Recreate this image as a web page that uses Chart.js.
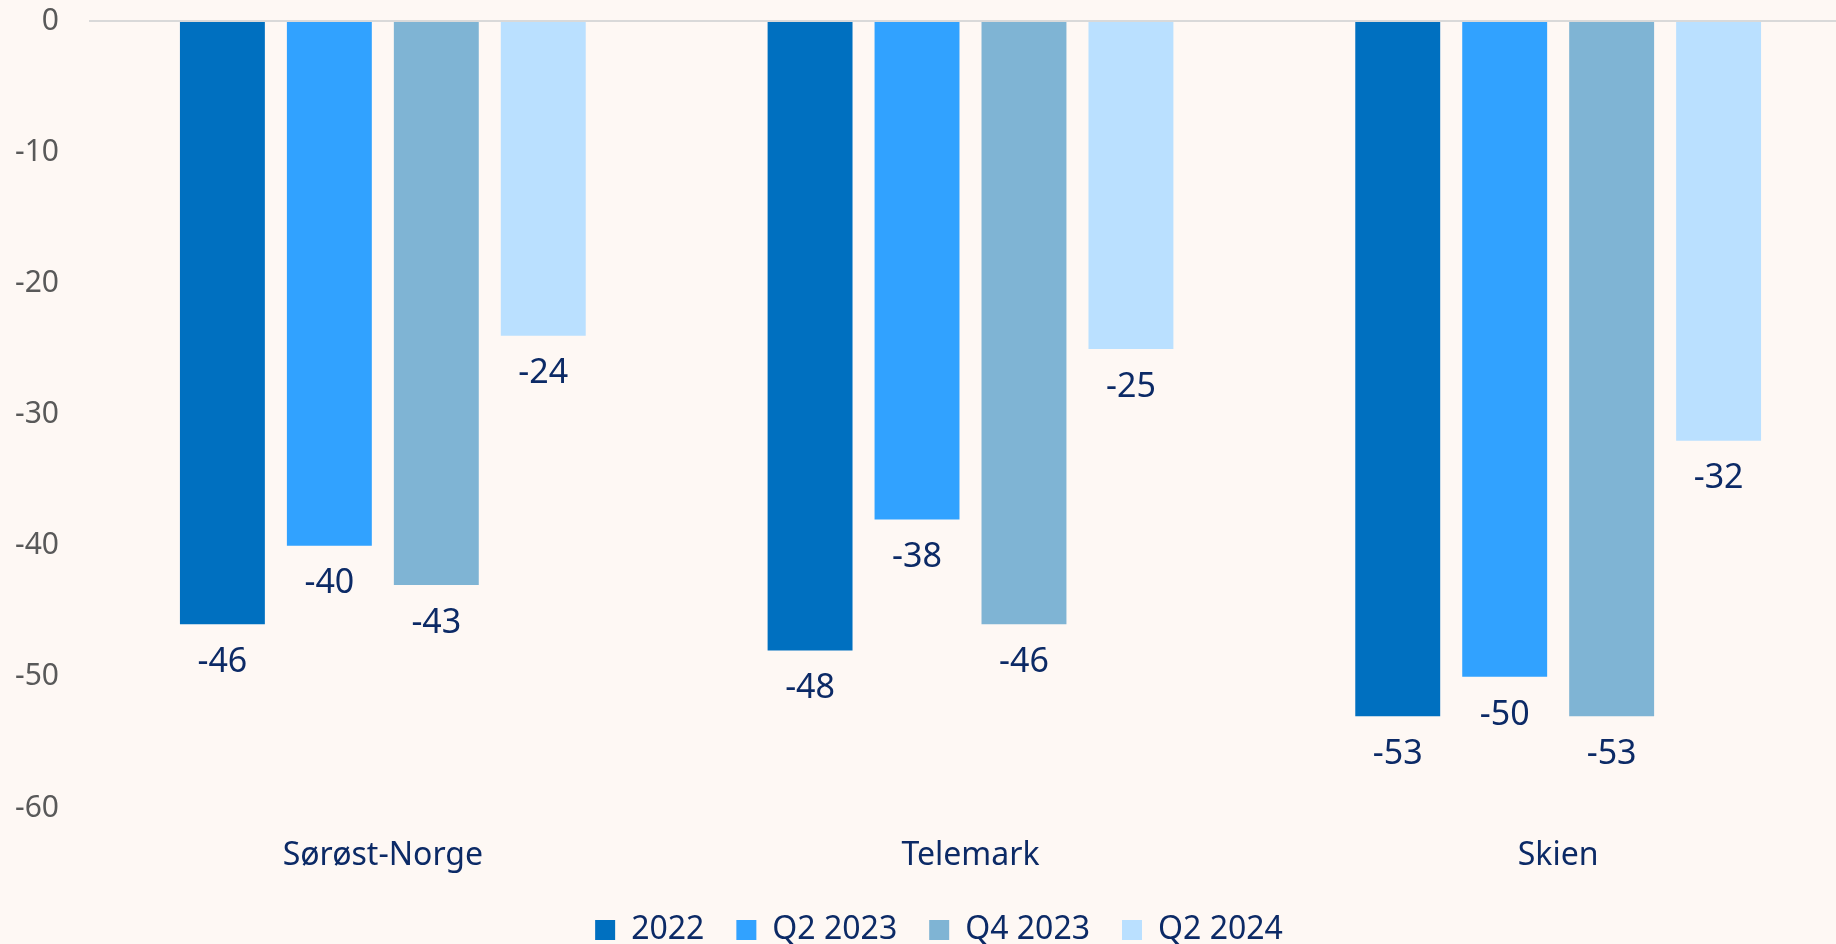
<!DOCTYPE html>
<html>
<head>
<meta charset="utf-8">
<script src="https://cdn.jsdelivr.net/npm/chart.js@4.4.1/dist/chart.umd.min.js"></script>
<style>
  html, body { margin: 0; padding: 0; background: #FEF8F4; overflow: hidden; }
  /* plottet gaar litt forbi hoyre kant i originalen */
  #wrap { width: 1852px; height: 944px; }
</style>
</head>
<body>
<div id="wrap"><canvas id="miGrafico"></canvas></div>
<script>
const labelsKat = ['Sørøst-Norge', 'Telemark', 'Skien'];
const serieNavn = ['2022', 'Q2 2023', 'Q4 2023', 'Q2 2024'];
const data2022 = [-46, -48, -53];
const dataQ22023 = [-40, -38, -50];
const dataQ42023 = [-43, -46, -53];
const dataQ22024 = [-24, -25, -32];
const farger = ['#0070C0', '#31A2FF', '#7FB4D4', '#BAE0FF'];
const yTicks = [0, -10, -20, -30, -40, -50, -60];

const fontNavn = '"Noto Sans", "Open Sans", sans-serif';
const marine = '#0C2A66';

// bakgrunn
const bgPlugin = {
    id: 'bg',
    beforeDraw(chart) {
        const c = chart.ctx;
        c.save();
        c.fillStyle = '#FEF8F4';
        c.fillRect(0, 0, chart.width, chart.height);
        c.restore();
    }
};

// liten justering av legenden
const legendFlytt = {
    id: 'legendFlytt',
    afterLayout(chart) {
        if (chart.legend) {
            chart.legend.left += 5;
            chart.legend.right += 5;
        }
    }
};

// verdier under stolpene
const verdiPlugin = {
    id: 'verdier',
    afterDatasetsDraw(chart) {
        const c = chart.ctx;
        c.save();
        c.font = '34px ' + fontNavn;
        c.fillStyle = marine;
        c.textAlign = 'center';
        c.textBaseline = 'middle';
        chart.data.datasets.forEach((ds, i) => {
            const meta = chart.getDatasetMeta(i);
            meta.data.forEach((el, j) => {
                c.fillText(String(ds.data[j]), el.x, el.y + 38);
            });
        });
        c.restore();
    }
};

const serier = [data2022, dataQ22023, dataQ42023, dataQ22024];
const datasets = serier.map((d, i) => ({
    label: serieNavn[i],
    data: d,
    backgroundColor: farger[i],
    borderWidth: 0,
    barPercentage: 0.794,
    categoryPercentage: 0.728
}));

const grafico = new Chart(document.getElementById('miGrafico'), {
    type: 'bar',
    data: { labels: labelsKat, datasets: datasets },
    options: {
        responsive: true,
        maintainAspectRatio: false,
        animation: false,
        layout: { padding: { left: 16, right: 0, top: 21, bottom: -12 } },
        plugins: {
            legend: {
                position: 'bottom',
                labels: {
                    font: { family: fontNavn, size: 32 },
                    color: marine,
                    boxWidth: 20,
                    boxHeight: 20,
                    padding: 32
                }
            },
            tooltip: { enabled: false }
        },
        scales: {
            x: {
                grid: { display: false },
                border: { display: false },
                ticks: {
                    font: { family: fontNavn, size: 32 },
                    color: marine,
                    padding: 21
                },
                afterFit(axis) {
                    axis.height = 74;
                    axis.paddingLeft = 0;
                    axis.paddingRight = 0;
                }
            },
            y: {
                min: -60,
                max: 0,
                afterBuildTicks(axis) {
                    axis.ticks = yTicks.map(v => ({ value: v }));
                },
                afterFit(axis) {
                    axis.width = 73;
                    axis.paddingTop = 0;
                    axis.paddingBottom = 0;
                },
                grid: {
                    drawTicks: false,
                    lineWidth: 2,
                    color: ctx => (ctx.tick && ctx.tick.value === 0) ? '#D9D9D9' : 'transparent'
                },
                border: { display: false },
                ticks: {
                    font: { family: fontNavn, size: 30 },
                    color: '#595959',
                    padding: 30
                }
            }
        }
    },
    plugins: [bgPlugin, legendFlytt, verdiPlugin]
});
</script>
</body>
</html>
